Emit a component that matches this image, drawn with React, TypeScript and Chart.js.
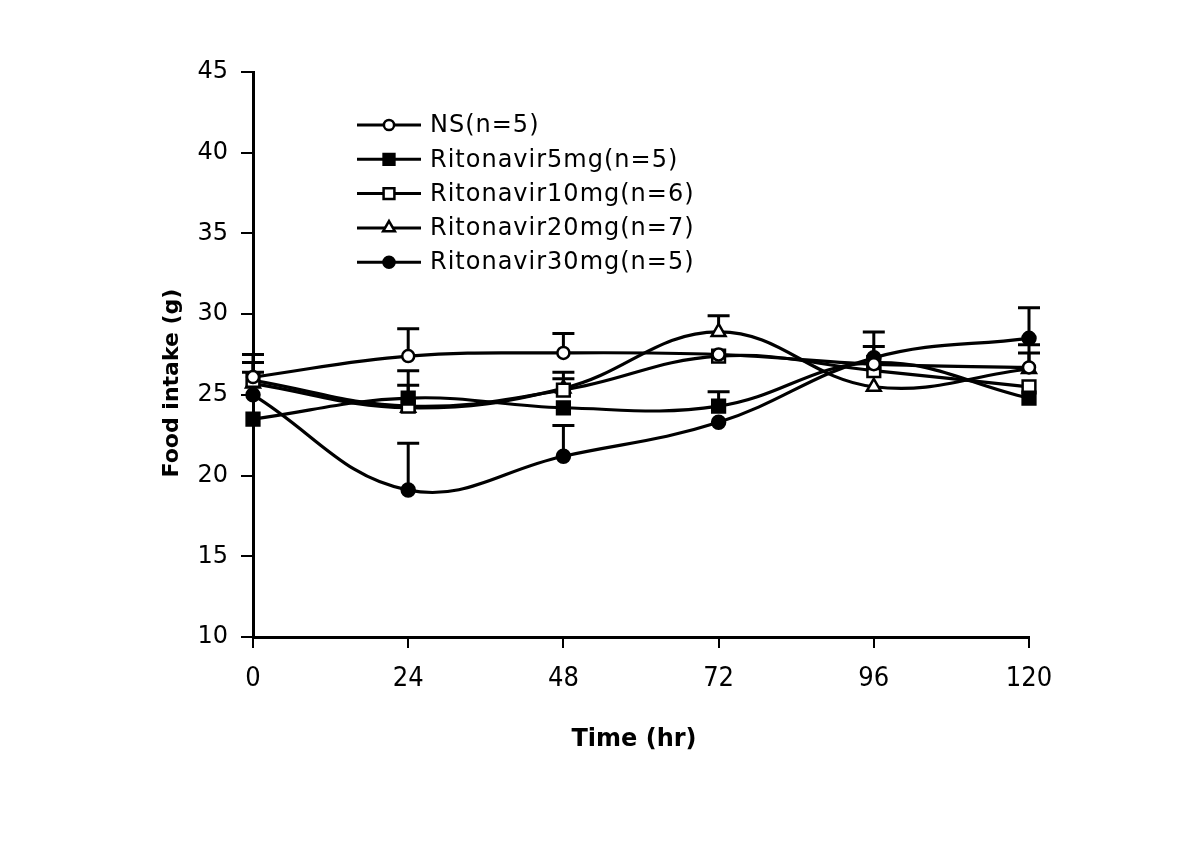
import React, { useEffect, useRef } from "react";
import { Chart, registerables } from "chart.js";

Chart.register(...registerables);

const times = [0, 24, 48, 72, 96, 120];
const xTicks = [0, 24, 48, 72, 96, 120];

const xTitle = "Time (hr)";
const yTitle = "Food intake (g)";

const seriesNames = [
  "NS(n=5)",
  "Ritonavir5mg(n=5)",
  "Ritonavir10mg(n=6)",
  "Ritonavir20mg(n=7)",
  "Ritonavir30mg(n=5)",
];

const nsValues = [26.1, 27.4, 27.6, 27.5, 26.9, 26.7];
const rit5Values = [23.5, 24.8, 24.2, 24.3, 27.0, 24.8];
const rit10Values = [25.9, 24.3, 25.3, 27.4, 26.5, 25.5];
const rit20Values = [25.7, 24.2, 25.4, 28.9, 25.5, 26.6];
const rit30Values = [25.0, 19.1, 21.2, 23.3, 27.3, 28.5];

const nsErr = [1.4, 1.7, 1.2, 0, 0, 0.9];
const rit5Err = [0, 1.7, 0, 0.9, 1.0, 0];
const rit10Err = [1.1, 1.3, 0.7, 0, 0, 0];
const rit20Err = [0.7, 0, 1.0, 1.0, 0, 1.5];
const rit30Err = [0, 2.9, 1.9, 0, 1.6, 1.9];

const allValues = [nsValues, rit5Values, rit10Values, rit20Values, rit30Values];
const allErrs = [nsErr, rit5Err, rit10Err, rit20Err, rit30Err];

const markerStyles = ["circle", "rect", "rect", "triangle", "circle"];
const markerFill = ["#ffffff", "#000000", "#ffffff", "#ffffff", "#000000"];
const markerRadius = [6, 9, 9, 8, 6.5];

const errorBarPlugin = {
  id: "errorBars",
  beforeDatasetsDraw(chart: any) {
    const ctx = chart.ctx;
    const xs = chart.scales.x;
    const ys = chart.scales.y;
    ctx.save();
    ctx.strokeStyle = "#000";
    ctx.lineWidth = 3;
    allValues.forEach((vals, si) => {
      const errs = allErrs[si];
      vals.forEach((v, i) => {
        const e = errs[i];
        if (!e) return;
        const px = xs.getPixelForValue(times[i]);
        const py = ys.getPixelForValue(v);
        const pt = ys.getPixelForValue(v + e);
        ctx.beginPath();
        ctx.moveTo(px, py);
        ctx.lineTo(px, pt);
        ctx.moveTo(px - 11, pt);
        ctx.lineTo(px + 11, pt);
        ctx.stroke();
      });
    });
    ctx.restore();
  },
};

const titlesPlugin = {
  id: "axisTitles",
  afterDraw(chart: any) {
    const ctx = chart.ctx;
    const area = chart.chartArea;
    ctx.save();
    ctx.fillStyle = "#000";
    ctx.textAlign = "center";
    ctx.textBaseline = "middle";
    ctx.font = "bold 24px 'DejaVu Sans'";
    ctx.fillText(xTitle, area.left + 381, area.bottom + 103);
    ctx.translate(area.left - 81, area.top + 311);
    ctx.rotate(-Math.PI / 2);
    ctx.font = "bold 22px 'DejaVu Sans'";
    ctx.fillText(yTitle, 0, 0);
    ctx.restore();
  },
};

const legendPlugin = {
  id: "customLegend",
  afterDraw(chart: any) {
    const ctx = chart.ctx;
    const area = chart.chartArea;
    const x0 = area.left + 104;
    const x1 = area.left + 168;
    const mx = (x0 + x1) / 2;
    ctx.save();
    ctx.font = "24px 'DejaVu Sans'";
    try {
      (ctx as any).letterSpacing = "1px";
    } catch (e) {}
    ctx.textBaseline = "middle";
    ctx.fillStyle = "#000";
    seriesNames.forEach((name, i) => {
      const y = area.top + 53 + i * 34.3;
      ctx.strokeStyle = "#000";
      ctx.lineWidth = 3;
      ctx.beginPath();
      ctx.moveTo(x0, y);
      ctx.lineTo(x1, y);
      ctx.stroke();
      ctx.fillStyle = markerFill[i];
      ctx.lineWidth = 2.5;
      const style = markerStyles[i];
      const r = markerRadius[i] * 0.85;
      ctx.beginPath();
      if (style === "circle") {
        ctx.arc(mx, y, r, 0, Math.PI * 2);
      } else if (style === "rect") {
        const s = r * Math.SQRT1_2;
        ctx.rect(mx - s, y - s, 2 * s, 2 * s);
      } else {
        ctx.moveTo(mx, y - r);
        ctx.lineTo(mx + r * 0.866, y + r * 0.5);
        ctx.lineTo(mx - r * 0.866, y + r * 0.5);
        ctx.closePath();
      }
      ctx.fill();
      ctx.stroke();
      ctx.fillStyle = "#000";
      ctx.fillText(name, x1 + 9, y + 1);
    });
    ctx.restore();
  },
};

export default function App() {
  const ref = useRef<HTMLCanvasElement | null>(null);
  useEffect(() => {
    if (!ref.current) return;
    const datasets = allValues.map((vals, i) => ({
      label: seriesNames[i],
      data: vals.map((v, j) => ({ x: times[j], y: v })),
      borderColor: "#000",
      borderWidth: 3.2,
      backgroundColor: markerFill[i],
      pointStyle: markerStyles[i] as any,
      pointRadius: markerRadius[i],
      pointBorderWidth: 2.5,
      pointBorderColor: "#000",
      pointBackgroundColor: markerFill[i],
      tension: 0.4,
      fill: false,
      clip: false as any,
    }));
    const chart = new Chart(ref.current, {
      type: "line",
      data: { datasets },
      plugins: [errorBarPlugin, legendPlugin, titlesPlugin],
      options: {
        animation: false,
        responsive: false,
        maintainAspectRatio: false,
        layout: { padding: { left: 0, top: 72, right: 171, bottom: 0 } },
        plugins: { legend: { display: false }, tooltip: { enabled: false } },
        scales: {
          x: {
            type: "linear",
            min: 0,
            max: 120,
            afterBuildTicks: (s: any) => {
              s.ticks = xTicks.map((v) => ({ value: v }));
            },
            afterFit: (s: any) => {
              s.height = 225;
            },
            border: { display: true, color: "#000", width: 3 },
            grid: {
              drawOnChartArea: false,
              drawTicks: true,
              tickLength: 11,
              color: "#000",
              lineWidth: 2,
            },
            ticks: {
              color: "#000",
              padding: 15,
              maxRotation: 0,
              font: { family: "'DejaVu Sans Condensed', 'DejaVu Sans'", size: 27 },
            },
          },
          y: {
            type: "linear",
            min: 10,
            max: 45,
            afterFit: (s: any) => {
              s.width = 253;
            },
            border: { display: true, color: "#000", width: 3 },
            grid: {
              drawOnChartArea: false,
              drawTicks: true,
              tickLength: 12,
              color: "#000",
              lineWidth: 2,
            },
            ticks: {
              stepSize: 5,
              color: "#000",
              padding: 13,
              font: { family: "'DejaVu Sans'", size: 24 },
            },
          },
        },
      },
    });
    return () => chart.destroy();
  }, []);
  return (
    <div style={{ position: "absolute", left: 0, top: 0, width: 1200, height: 862, background: "#fff" }}>
      <canvas ref={ref} width={1200} height={862} style={{ width: 1200, height: 862 }} />
    </div>
  );
}
